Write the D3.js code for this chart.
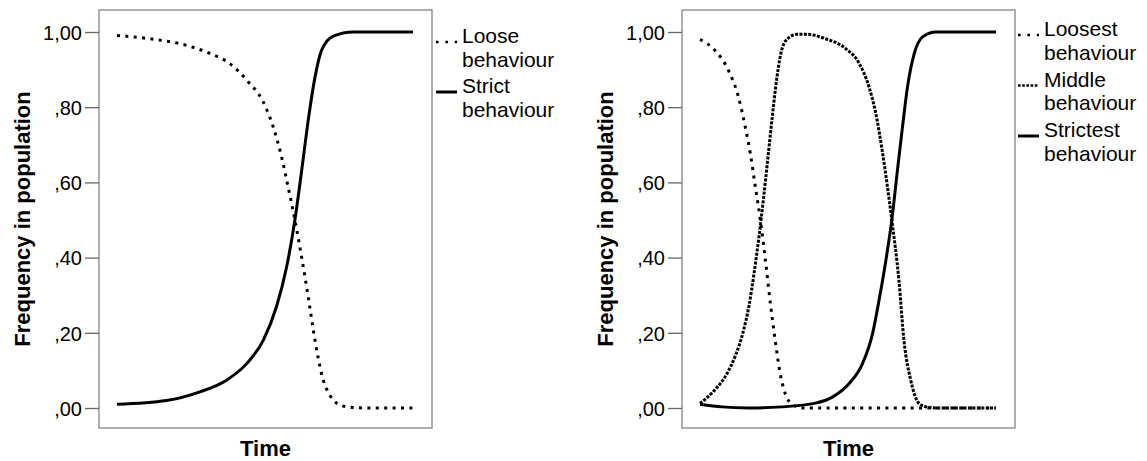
<!DOCTYPE html>
<html>
<head>
<meta charset="utf-8">
<script src="https://cdn.jsdelivr.net/npm/d3@7/dist/d3.min.js"></script>
<style>
  body { margin: 0; background: white; }
  text { font-family: 'Liberation Sans', Arial, Helvetica, sans-serif; fill: #000; }
</style>
</head>
<body>
<svg id="svg" width="1147" height="461"></svg>
<script>

// ************************************************************************************************** //
// Data (time in arbitrary steps 0..100)

var y_ticks = [0, 0.2, 0.4, 0.6, 0.8, 1];

// left panel
var loose_time = [0, 11.1, 22.3, 31.3, 38.1, 43.8, 49.4, 52.8, 55.6, 57.8, 60.1, 62.4, 64.6, 66.9, 69.1, 71.9, 76.4, 84, 100];
var loose_freq = [0.991, 0.982, 0.967, 0.943, 0.916, 0.872, 0.814, 0.747, 0.668, 0.588, 0.50, 0.40, 0.295, 0.18, 0.091, 0.034, 0.005, 0, 0];

var strict_time = [0, 16.7, 28, 37, 43.8, 49.4, 53.9, 57.3, 60.1, 62.4, 64.6, 66.9, 69.1, 73.1, 79.8, 100];
var strict_freq = [0.01, 0.02, 0.043, 0.074, 0.118, 0.18, 0.27, 0.375, 0.50, 0.632, 0.765, 0.88, 0.951, 0.989, 1.0, 1.0];

// right panel
var loosest_time = [0, 5.1, 9.6, 13, 15.3, 17, 18.7, 20.4, 22.1, 23.8, 25.4, 27.1, 28.8, 30, 34.5, 100];
var loosest_freq = [0.98, 0.951, 0.898, 0.827, 0.747, 0.677, 0.588, 0.5, 0.393, 0.277, 0.18, 0.091, 0.038, 0.019, 0, 0];

var middle_time = [0, 4.4, 9, 12, 14.5, 16.5, 18.3, 20, 21.5, 23, 24.5, 26, 27.7, 30, 33, 36, 42.4, 49.2, 53.8, 57.1, 59.4, 61.7, 64.8, 67.2, 68.9, 71.2, 74, 77, 80, 100];
var middle_freq = [0.012, 0.043, 0.09, 0.14, 0.2, 0.27, 0.36, 0.46, 0.56, 0.67, 0.78, 0.88, 0.955, 0.985, 0.994, 0.994, 0.982, 0.956, 0.916, 0.854, 0.783, 0.677, 0.5, 0.34, 0.18, 0.074, 0.012, 0.002, 0, 0];

var strictest_time = [0, 7.4, 16.4, 27.7, 39, 44.7, 50.4, 54.9, 58.3, 60.5, 62.8, 64.8, 66.7, 68.4, 70.1, 72.4, 75.2, 79.7, 100];
var strictest_freq = [0.01, 0.003, 0.0, 0.003, 0.013, 0.029, 0.065, 0.118, 0.198, 0.287, 0.393, 0.5, 0.632, 0.747, 0.854, 0.943, 0.987, 1.0, 1.0];

var left_labels = ['Loose behaviour', 'Strict behaviour'];
var right_labels = ['Loosest behaviour', 'Middle behaviour', 'Strictest behaviour'];

// ************************************************************************************************** //
// Styles

var dotted = { 'stroke-width': 3, 'stroke-dasharray': '3 5.4' };
var dense = { 'stroke-width': 3, 'stroke-dasharray': '3 1.4' };
var solid = { 'stroke-width': 3, 'stroke-dasharray': null };

var svg = d3.select('#svg');
var box_w = 333, box_top = 10, box_bottom = 428;

function zip(t, v){ return t.map((d, i) => ({ t: d, v: v[i] })); }

// ************************************************************************************************** //
// Panel

function draw_panel(x0, series, legend){

  var x = d3.scaleLinear().domain([0, 100]).range([x0 + 18, x0 + 314]);
  var y = d3.scaleLinear().domain([0, 1]).range([408, 32]);
  var g = svg.append('g');

  g.append('rect')
    .attr('x', x0).attr('y', box_top).attr('width', box_w).attr('height', box_bottom - box_top)
    .style('fill', 'none').style('stroke', '#8c8c8c').style('stroke-width', 1.4);

  var axis = g.append('g').attr('transform', 'translate(' + x0 + ',0)')
    .call(d3.axisLeft(y).tickValues(y_ticks).tickSize(14).tickPadding(3)
      .tickFormat(d => d3.format('.2f')(d).replace('.', ',').replace(/^0/, '')));
  axis.select('.domain').remove();
  axis.selectAll('line').style('stroke', '#666').style('stroke-width', 1.3);
  axis.selectAll('text').style('font-size', '20px').style('font-family', "'Liberation Sans', Arial, sans-serif").attr('dy', '0.36em');

  var line = d3.line().x(d => x(d.t)).y(d => y(d.v)).curve(d3.curveMonotoneX);

  series.forEach(s => {
    var path = g.append('path').datum(s.data).attr('d', line)
      .style('fill', 'none').style('stroke', '#000').style('stroke-linecap', 'butt');
    Object.keys(s.style).forEach(k => path.style(k, s.style[k]));
  });

  // axis titles
  g.append('text').attr('x', x0 + box_w/2).attr('y', 456).attr('text-anchor', 'middle')
    .style('font-size', '22px').style('font-weight', 'bold').text('Time');
  g.append('text').attr('transform', 'translate(' + (x0 - 69) + ',' + (box_top + box_bottom)/2 + ') rotate(-90)')
    .attr('text-anchor', 'middle').style('font-size', '22px').style('font-weight', 'bold').text('Frequency in population');

  // legend (one text per line, so the lines sit tight like the original)
  legend.items.forEach((item, i) => {
    var base = legend.y + i*legend.step;
    var l = g.append('line')
      .attr('x1', legend.x).attr('x2', legend.x + 21).attr('y1', base - 1).attr('y2', base - 1)
      .style('stroke', '#000');
    Object.keys(item.style).forEach(k => l.style(k, item.style[k]));
    if(item.style === dotted){ l.style('stroke-dasharray', '2.6 6.8').style('stroke-width', 2.6); }
    if(item.style === dense){ l.style('stroke-dasharray', '2.6 1.6').style('stroke-width', 2.6); }
    item.label.split(' ').forEach((w, j) => {
      g.append('text').attr('x', legend.x + 26).attr('y', base + j*23.5).style('font-size', '21px').text(w);
    });
  });
}

draw_panel(99, [
  { data: zip(loose_time, loose_freq), style: dotted },
  { data: zip(strict_time, strict_freq), style: solid }
], { x: 436, y: 43, step: 50, items: [
  { label: left_labels[0], style: dotted },
  { label: left_labels[1], style: solid }
]});

draw_panel(682, [
  { data: zip(loosest_time, loosest_freq), style: dotted },
  { data: zip(middle_time, middle_freq), style: dense },
  { data: zip(strictest_time, strictest_freq), style: solid }
], { x: 1018, y: 36, step: 50.5, items: [
  { label: right_labels[0], style: dotted },
  { label: right_labels[1], style: dense },
  { label: right_labels[2], style: solid }
]});

</script>
</body>
</html>
